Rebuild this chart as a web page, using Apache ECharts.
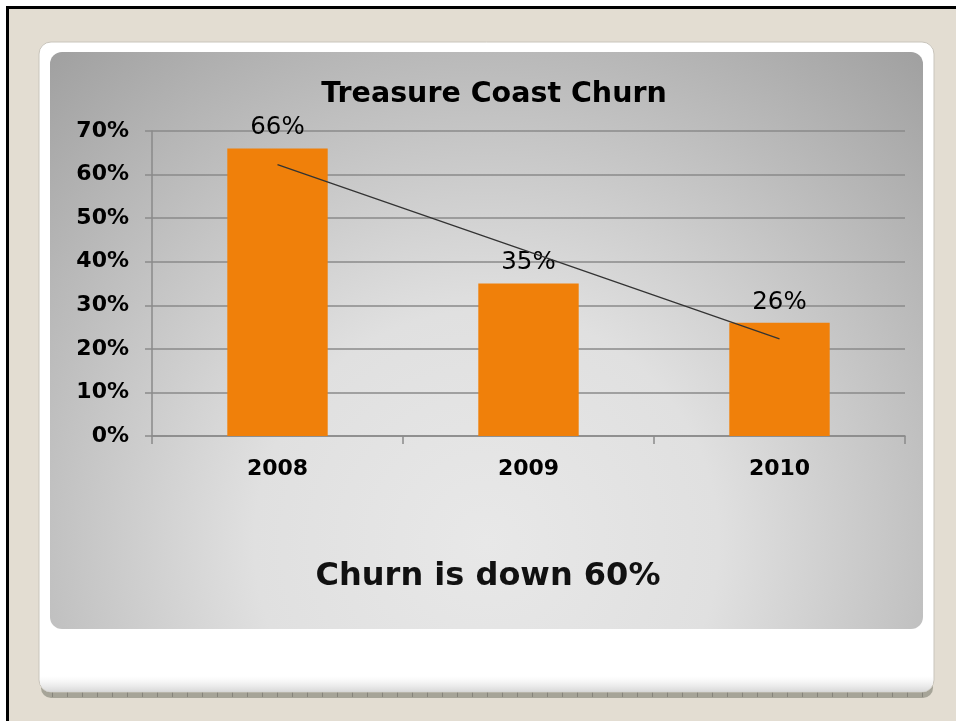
<!DOCTYPE html>
<html>
<head>
<meta charset="utf-8">
<title>Treasure Coast Churn</title>
<script src="https://cdn.jsdelivr.net/npm/echarts@6/dist/echarts.min.js"></script>
<style>
  html, body { margin: 0; padding: 0; background: #ffffff; overflow: hidden; }
  #chart { width: 956px; height: 721px; }
</style>
</head>
<body>
<div id="chart"></div>
<script>
// Churn rate per year (percent)
const years = ['2008', '2009', '2010'];
const churn = [66, 35, 26];
// Straight trend line across the three years (percent)
const trend = [62.3, 42.3, 22.3];
// Value axis ticks (percent)
const yTicks = [0, 10, 20, 30, 40, 50, 60, 70];

const chart = echarts.init(document.getElementById('chart'), null, { renderer: 'canvas' });

const FONT = '"DejaVu Sans", Verdana, sans-serif';

// small marks along the strip under the card
const rulerMarks = [];
for (let x = 52; x < 930; x += 15) {
  rulerMarks.push({ type: 'rect', z: -9, silent: true,
    shape: { x: x, y: 692, width: 1, height: 5 }, style: { fill: '#85837a' } });
}

const option = {
  backgroundColor: '#ffffff',
  animation: false,
  graphic: [
    // page frame: beige sheet with a dark rule along the top and left
    { type: 'rect', z: -10, shape: { x: 6, y: 6, width: 960, height: 730 }, style: { fill: '#e3ddd2' } },
    { type: 'rect', z: -10, shape: { x: 6, y: 6, width: 960, height: 3 }, style: { fill: '#000000' } },
    { type: 'rect', z: -10, shape: { x: 6, y: 6, width: 3, height: 730 }, style: { fill: '#000000' } },
    // ruler strip under the card
    { type: 'rect', z: -9, shape: { x: 41, y: 686, width: 892, height: 12, r: [0, 0, 10, 10] }, style: { fill: '#a6a498' } },
    ...rulerMarks,
    // white card
    { type: 'rect', z: -8, shape: { x: 39, y: 42, width: 895, height: 650, r: 12 },
      style: { fill: '#ffffff', stroke: '#c9c5bc', lineWidth: 1 } },
    { type: 'rect', z: -8, shape: { x: 40, y: 676, width: 893, height: 16, r: [0, 0, 11, 11] },
      style: { fill: new echarts.graphic.LinearGradient(0, 0, 0, 1, [
        { offset: 0, color: 'rgba(235,235,235,0)' },
        { offset: 1, color: 'rgba(215,215,215,1)' }
      ]) } },
    // grey chart panel
    { type: 'rect', z: -7, shape: { x: 50, y: 52, width: 873, height: 577, r: 12 },
      style: { fill: new echarts.graphic.RadialGradient(0.5, 0.85, 1.15, [
        { offset: 0, color: '#e8e8e8' },
        { offset: 0.35, color: '#e0e0e0' },
        { offset: 1, color: '#9f9f9f' }
      ]) } },
    // footnote
    { type: 'text', z: 10, x: 488, y: 561,
      style: { text: 'Churn is down 60%', font: 'bold 32px ' + FONT, fill: '#111111', textAlign: 'center' } }
  ],
  title: {
    text: 'Treasure Coast Churn',
    left: 489, top: 75, textAlign: 'center',
    textStyle: { fontFamily: FONT, fontWeight: 'bold', fontSize: 28.5, color: '#000000' }
  },
  grid: { left: 152, right: 51, top: 131, bottom: 285, containLabel: false },
  xAxis: {
    type: 'category',
    data: years,
    boundaryGap: true,
    axisLine: { show: true, lineStyle: { color: '#8a8a8a', width: 1.5 } },
    axisTick: { show: true, length: 8, alignWithLabel: false, lineStyle: { color: '#8a8a8a', width: 1.5 } },
    axisLabel: { margin: 22, fontFamily: FONT, fontWeight: 'bold', fontSize: 22, color: '#000000' }
  },
  yAxis: {
    type: 'value',
    min: yTicks[0], max: yTicks[yTicks.length - 1], interval: 10,
    axisLine: { show: true, lineStyle: { color: '#8a8a8a', width: 1.5 } },
    axisTick: { show: true, inside: false, length: 7, lineStyle: { color: '#8a8a8a', width: 1.5 } },
    splitLine: { show: true, lineStyle: { color: '#8a8a8a', width: 1.5 } },
    axisLabel: { margin: 23, fontFamily: FONT, fontWeight: 'bold', fontSize: 22, color: '#000000',
      formatter: v => v + '%' }
  },
  series: [
    {
      type: 'bar',
      data: churn,
      barWidth: '40%',
      itemStyle: { color: '#f0800a' },
      label: { show: true, position: 'top', distance: 8, formatter: p => p.value + '%',
        fontFamily: FONT, fontSize: 24.5, color: '#000000' },
      z: 2
    },
    {
      type: 'line',
      data: trend,
      symbol: 'none',
      lineStyle: { color: '#333333', width: 1.3 },
      z: 3,
      silent: true
    }
  ]
};

chart.setOption(option);
</script>
</body>
</html>
